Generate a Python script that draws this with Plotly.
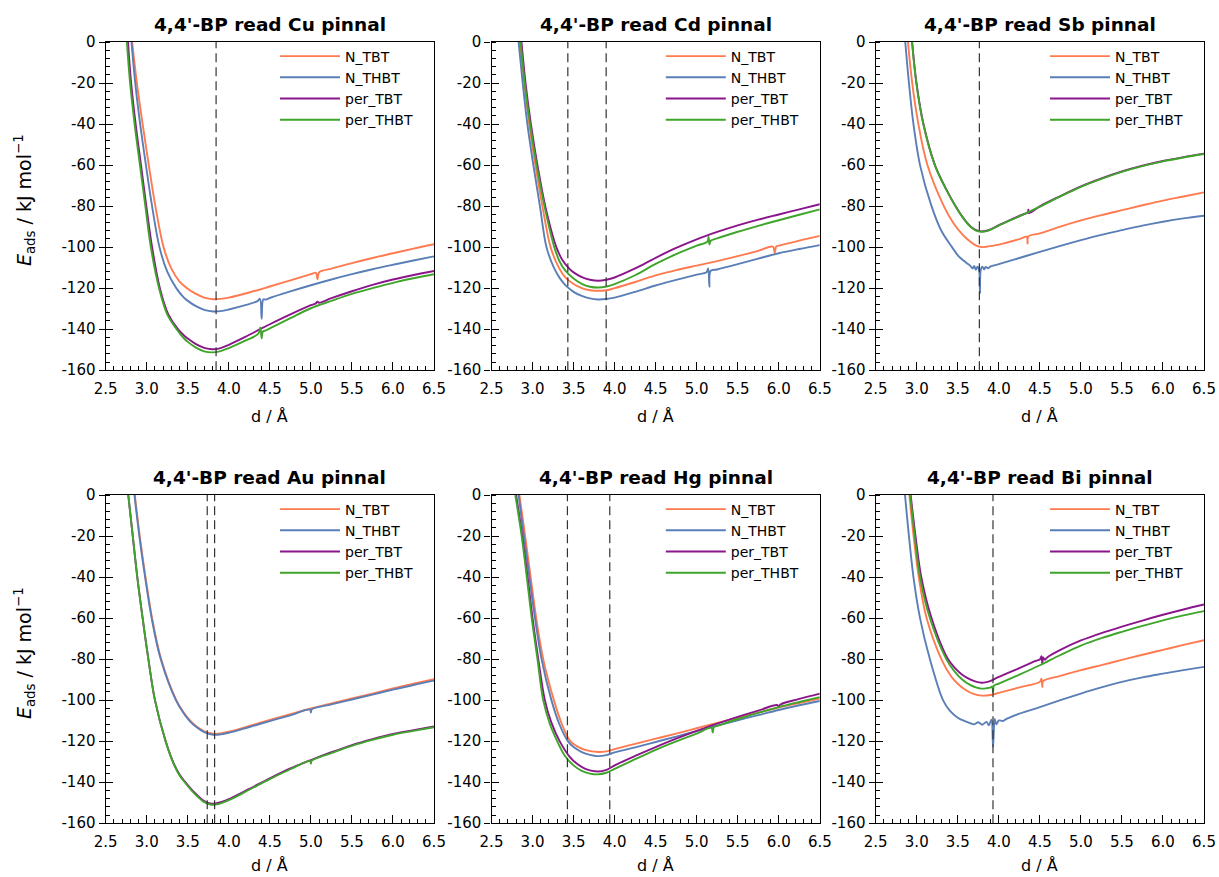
import plotly.graph_objects as go

W, H = 1219, 877
FONT = "DejaVu Sans"

PANEL_TITLES = ["4,4'-BP read Cu pinnal", "4,4'-BP read Cd pinnal", "4,4'-BP read Sb pinnal",
                "4,4'-BP read Au pinnal", "4,4'-BP read Hg pinnal", "4,4'-BP read Bi pinnal"]
SERIES = ["N_TBT", "N_THBT", "per_TBT", "per_THBT"]
COLORS = ["#FF7A4F", "#5A7EB6", "#8B168B", "#3EA52A"]

X_TICKS = [2.5, 3.0, 3.5, 4.0, 4.5, 5.0, 5.5, 6.0, 6.5]
X_TICK_TEXT = ["2.5", "3.0", "3.5", "4.0", "4.5", "5.0", "5.5", "6.0", "6.5"]
Y_TICKS = [0, -20, -40, -60, -80, -100, -120, -140, -160]
Y_TICK_TEXT = ["0", "-20", "-40", "-60", "-80", "-100", "-120", "-140", "-160"]

# ---------------- Cu ----------------
CU_N_TBT_D = [2.822, 2.88, 2.95, 3.025, 3.105, 3.205, 3.30, 3.40, 3.49, 3.60, 3.70, 3.81, 3.90, 4.00, 4.25, 4.50, 4.75, 5.00, 5.06, 5.08, 5.10, 5.25, 5.50, 5.75, 6.00, 6.25, 6.50]
CU_N_TBT_E = [0, -20, -40, -60, -80, -100, -110.5, -116.8, -120, -122.8, -124.6, -125.4, -125.2, -124.6, -122.1, -119.2, -116.2, -113.2, -112.5, -115.7, -112.3, -110.5, -107.8, -105.3, -103, -100.7, -98.6]
CU_N_THBT_D = [2.814, 2.86, 2.92, 2.99, 3.065, 3.155, 3.25, 3.36, 3.45, 3.50, 3.60, 3.70, 3.81, 3.90, 4.00, 4.20, 4.35, 4.38, 4.40, 4.42, 4.45, 4.50, 4.75, 5.00, 5.25, 5.50, 5.75, 6.00, 6.25, 6.50]
CU_N_THBT_E = [0, -20, -40, -60, -80, -100, -112, -120, -124.5, -126.2, -128.8, -130.6, -131.4, -131.2, -130.4, -128.3, -126.3, -125.2, -135, -125.5, -125.6, -124.8, -121.6, -118.6, -115.8, -113.2, -110.8, -108.6, -106.5, -104.5]
CU_PER_TBT_D = [2.772, 2.81, 2.865, 2.93, 2.995, 3.065, 3.16, 3.26, 3.38, 3.45, 3.50, 3.60, 3.70, 3.80, 3.90, 4.00, 4.20, 4.40, 4.50, 4.75, 5.00, 5.06, 5.08, 5.10, 5.25, 5.50, 5.75, 6.00, 6.25, 6.50]
CU_PER_TBT_E = [0, -20, -40, -60, -80, -100, -120, -132.5, -140, -142.9, -144.6, -147.3, -149.1, -149.8, -149.2, -147.6, -143.8, -139.6, -137.6, -132.8, -128.3, -127.4, -126.6, -127.1, -124.9, -121.5, -118.4, -115.8, -113.6, -111.6]
CU_PER_THBT_D = [2.758, 2.797, 2.852, 2.917, 2.983, 3.05, 3.15, 3.25, 3.364, 3.45, 3.50, 3.60, 3.70, 3.80, 3.90, 4.00, 4.20, 4.36, 4.385, 4.40, 4.415, 4.45, 4.50, 4.75, 5.00, 5.25, 5.50, 5.75, 6.00, 6.25, 6.50]
CU_PER_THBT_E = [0, -20, -40, -60, -80, -100, -120, -132.8, -140, -144.3, -146.2, -149, -150.8, -151.3, -150.7, -149.2, -145.6, -142.2, -139.2, -144.4, -141.2, -140.6, -139.6, -134.6, -129.8, -126.2, -122.8, -120, -117.4, -115.2, -113.2]
CU_DASH = [3.845]

# ---------------- Cd ----------------
CD_N_TBT_D = [2.845, 2.90, 2.96, 3.035, 3.12, 3.22, 3.32, 3.40, 3.50, 3.60, 3.70, 3.80, 3.90, 4.00, 4.25, 4.50, 4.75, 5.00, 5.25, 5.50, 5.75, 5.93, 5.95, 5.97, 6.00, 6.25, 6.50]
CD_N_TBT_E = [0, -20, -40, -60, -80, -100, -110, -114.8, -118, -120, -121, -121.3, -121, -120, -117, -113.8, -111.2, -109, -106.8, -104.4, -101.8, -99.8, -102.8, -99.6, -99.3, -96.8, -94.5]
CD_N_THBT_D = [2.83, 2.88, 2.937, 3.01, 3.09, 3.17, 3.26, 3.33, 3.40, 3.50, 3.60, 3.70, 3.80, 3.90, 4.00, 4.25, 4.50, 4.75, 5.00, 5.12, 5.14, 5.155, 5.17, 5.25, 5.50, 5.75, 6.00, 6.25, 6.50]
CD_N_THBT_E = [0, -20, -40, -60, -80, -100, -110, -115, -118.5, -121.8, -123.8, -125, -125.5, -125.3, -124.6, -121.8, -118.7, -116, -113.4, -112.2, -110.4, -119.3, -111.6, -110.9, -108.3, -105.6, -103, -100.9, -99]
CD_PER_TBT_D = [2.865, 2.915, 2.98, 3.06, 3.155, 3.29, 3.36, 3.45, 3.50, 3.60, 3.70, 3.80, 3.90, 4.00, 4.25, 4.50, 4.75, 5.00, 5.25, 5.50, 5.75, 6.00, 6.25, 6.50]
CD_PER_TBT_E = [0, -20, -40, -60, -80, -100, -106, -110.6, -112.3, -114.6, -115.9, -116.4, -115.9, -114.8, -110.4, -105.2, -100.4, -96.2, -92.6, -89.4, -86.6, -84.1, -81.6, -79.1]
CD_PER_THBT_D = [2.855, 2.905, 2.97, 3.05, 3.145, 3.265, 3.33, 3.40, 3.50, 3.60, 3.70, 3.80, 3.90, 4.00, 4.25, 4.50, 4.75, 5.00, 5.13, 5.145, 5.155, 5.17, 5.25, 5.50, 5.75, 6.00, 6.25, 6.50]
CD_PER_THBT_E = [0, -20, -40, -60, -80, -100, -107, -111.5, -115.3, -117.9, -119.3, -119.7, -119.2, -118, -113.7, -108.2, -103.4, -99.3, -97.3, -95, -98.7, -96.9, -95.7, -92.5, -89.6, -86.9, -84.2, -81.6]
CD_DASH = [3.43, 3.897]

# ---------------- Sb ----------------
SB_N_TBT_D = [2.893, 2.945, 3.02, 3.13, 3.33, 3.45, 3.55, 3.65, 3.72, 3.79, 3.85, 3.90, 4.00, 4.25, 4.34, 4.35, 4.36, 4.50, 4.75, 5.00, 5.25, 5.50, 5.75, 6.00, 6.25, 6.50]
SB_N_TBT_E = [0, -20, -40, -60, -80, -88.5, -93.5, -97.3, -99.2, -100, -99.8, -99.5, -98.8, -96.1, -95.0, -98.3, -94.8, -93.3, -90.0, -87.0, -84.4, -82.0, -79.6, -77.3, -75.3, -73.3]
SB_N_THBT_D = [2.86, 2.905, 2.96, 3.04, 3.18, 3.30, 3.43, 3.50, 3.60, 3.65, 3.68, 3.70, 3.72, 3.74, 3.76, 3.77, 3.78, 3.80, 3.82, 3.84, 3.87, 3.90, 4.00, 4.25, 4.50, 4.75, 5.00, 5.25, 5.50, 5.75, 6.00, 6.25, 6.50]
SB_N_THBT_E = [0, -20, -40, -60, -80, -92, -100, -104, -107.5, -109, -110.4, -109.2, -111, -109.5, -111.3, -122.5, -111, -109.5, -110.9, -109.7, -110.3, -109.4, -108.3, -105.3, -102.3, -99.4, -96.6, -94, -91.7, -89.5, -87.6, -86, -84.7]
SB_PER_TBT_D = [2.944, 2.997, 3.082, 3.222, 3.362, 3.472, 3.55, 3.62, 3.68, 3.74, 3.79, 3.85, 3.90, 4.00, 4.25, 4.355, 4.36, 4.365, 4.50, 4.75, 5.00, 5.25, 5.50, 5.75, 6.00, 6.25, 6.50]
SB_PER_TBT_E = [0, -20, -40, -60, -72, -80, -84.8, -88.4, -90.7, -92.0, -92.3, -92.0, -91.3, -89.3, -84.8, -82.9, -81.8, -83.4, -80.1, -75.1, -70.4, -66.5, -63.1, -60.3, -58.0, -56.1, -54.4]
SB_PER_THBT_D = [2.942, 2.995, 3.08, 3.22, 3.36, 3.47, 3.55, 3.62, 3.68, 3.74, 3.79, 3.85, 3.90, 4.00, 4.25, 4.50, 4.75, 5.00, 5.25, 5.50, 5.75, 6.00, 6.25, 6.50]
SB_PER_THBT_E = [0, -20, -40, -60, -72, -80, -85, -88.6, -90.9, -92.2, -92.5, -92.2, -91.5, -89.5, -85, -80.3, -75.3, -70.6, -66.7, -63.3, -60.5, -58.2, -56.3, -54.6]
SB_DASH = [3.763]

# ---------------- Au ----------------
AU_N_TBT_D = [2.855, 2.915, 2.985, 3.065, 3.175, 3.36, 3.45, 3.53, 3.60, 3.70, 3.81, 3.90, 4.00, 4.25, 4.50, 4.75, 5.00, 5.25, 5.50, 5.75, 6.00, 6.25, 6.50]
AU_N_TBT_E = [0, -20, -40, -60, -80, -100, -106, -110, -112.6, -115.2, -116.4, -116.2, -115.4, -112.6, -109.7, -106.9, -104.1, -101.6, -99.2, -96.8, -94.3, -92, -89.8]
AU_N_THBT_D = [2.85, 2.91, 2.98, 3.06, 3.17, 3.355, 3.45, 3.53, 3.60, 3.70, 3.81, 3.90, 4.00, 4.25, 4.50, 4.75, 4.99, 5.00, 5.01, 5.25, 5.50, 5.75, 6.00, 6.25, 6.50]
AU_N_THBT_E = [0, -20, -40, -60, -80, -100, -106.4, -110.5, -113, -115.6, -116.9, -116.7, -115.9, -113.1, -110.2, -107.4, -104.6, -106.0, -104.5, -102.1, -99.7, -97.3, -94.9, -92.6, -90.5]
AU_PER_TBT_D = [2.775, 2.83, 2.885, 2.95, 3.02, 3.10, 3.23, 3.33, 3.40, 3.47, 3.55, 3.60, 3.70, 3.79, 3.85, 3.90, 4.00, 4.25, 4.50, 4.75, 5.00, 5.25, 5.50, 5.75, 6.00, 6.25, 6.50]
AU_PER_TBT_E = [0, -20, -40, -60, -80, -100, -120, -131, -136.3, -140, -143.8, -145.8, -149.2, -150.5, -150.3, -149.8, -148.3, -143.3, -138.1, -133.3, -129.2, -125.4, -121.9, -119, -116.5, -114.6, -112.8]
AU_PER_THBT_D = [2.775, 2.83, 2.885, 2.95, 3.02, 3.10, 3.23, 3.33, 3.40, 3.47, 3.55, 3.60, 3.70, 3.79, 3.85, 3.90, 4.00, 4.25, 4.50, 4.75, 4.99, 5.00, 5.01, 5.25, 5.50, 5.75, 6.00, 6.25, 6.50]
AU_PER_THBT_E = [0, -20, -40, -60, -80, -100, -120, -131.3, -136.7, -140.4, -144.2, -146.3, -149.7, -151, -150.8, -150.3, -148.8, -143.7, -138.5, -133.7, -129.7, -130.9, -129.5, -125.8, -122.3, -119.4, -116.9, -115, -113.2]
AU_DASH = [3.737, 3.827]

# ---------------- Hg ----------------
HG_N_TBT_D = [2.84, 2.91, 2.977, 3.045, 3.13, 3.26, 3.36, 3.46, 3.55, 3.65, 3.80, 3.90, 4.00, 4.25, 4.50, 4.75, 5.00, 5.25, 5.50, 5.75, 6.00, 6.25, 6.50]
HG_N_TBT_E = [0, -20, -40, -60, -80, -100, -112, -120, -122.7, -124.4, -125.3, -125, -123.9, -121.3, -118.8, -116.3, -113.7, -111.1, -108.6, -106.1, -103.6, -101.4, -99.2]
HG_N_THBT_D = [2.83, 2.895, 2.962, 3.03, 3.11, 3.23, 3.33, 3.43, 3.50, 3.60, 3.70, 3.79, 3.90, 4.00, 4.25, 4.50, 4.75, 5.00, 5.25, 5.50, 5.75, 6.00, 6.25, 6.50]
HG_N_THBT_E = [0, -20, -40, -60, -80, -100, -112, -120, -122.9, -125.3, -126.7, -127.3, -126.8, -125.5, -123, -120.4, -117.8, -115.1, -112.4, -109.8, -107.3, -104.8, -102.5, -100.4]
HG_PER_TBT_D = [2.80, 2.875, 2.94, 3.0, 3.07, 3.15, 3.23, 3.33, 3.45, 3.55, 3.65, 3.79, 3.90, 4.00, 4.25, 4.50, 4.75, 5.00, 5.25, 5.50, 5.75, 5.98, 6.00, 6.02, 6.25, 6.50]
HG_PER_TBT_E = [0, -20, -40, -60, -80, -100, -111, -120, -127.5, -131.3, -133.6, -134.8, -134, -131.8, -127.2, -122.9, -118.8, -115, -111.5, -108.2, -105.1, -102.4, -103.1, -102.1, -99.4, -96.8]
HG_PER_THBT_D = [2.79, 2.868, 2.93, 2.99, 3.06, 3.13, 3.21, 3.30, 3.40, 3.50, 3.60, 3.70, 3.79, 3.90, 4.00, 4.25, 4.50, 4.75, 5.00, 5.18, 5.195, 5.21, 5.25, 5.50, 5.75, 6.00, 6.25, 6.50]
HG_PER_THBT_E = [0, -20, -40, -60, -80, -100, -111.5, -120, -127.5, -131.8, -134.5, -135.8, -136.2, -135.4, -133.5, -128.8, -124.2, -120.1, -116.3, -113.5, -115.8, -113.1, -112.6, -109.2, -106.2, -103.4, -100.9, -98.5]
HG_DASH = [3.425, 3.941]

# ---------------- Bi ----------------
BI_N_TBT_D = [2.91, 2.962, 3.025, 3.12, 3.30, 3.42, 3.50, 3.60, 3.70, 3.79, 3.90, 4.00, 4.25, 4.50, 4.52, 4.53, 4.54, 4.75, 5.00, 5.25, 5.50, 5.75, 6.00, 6.25, 6.50]
BI_N_TBT_E = [0, -20, -40, -60, -80, -88.5, -92, -95.2, -97.1, -97.8, -97.5, -96.5, -93.8, -91.1, -89.6, -93.6, -90.8, -88.2, -85.4, -82.9, -80.4, -77.9, -75.5, -73.1, -70.8]
BI_N_THBT_D = [2.857, 2.905, 2.96, 3.04, 3.16, 3.32, 3.40, 3.50, 3.60, 3.65, 3.70, 3.75, 3.80, 3.85, 3.88, 3.91, 3.93, 3.95, 3.97, 4.00, 4.05, 4.10, 4.25, 4.50, 4.75, 5.00, 5.25, 5.50, 5.75, 6.00, 6.25, 6.50]
BI_N_THBT_E = [0, -20, -40, -60, -80, -100, -105, -108.6, -110.5, -111.2, -111.8, -110.8, -112, -110.6, -112.3, -109.5, -122.8, -109.2, -111.8, -109.9, -110.2, -109, -106.6, -103.4, -100, -96.8, -93.8, -91.1, -88.9, -87.1, -85.4, -83.8]
BI_PER_TBT_D = [2.926, 2.985, 3.055, 3.18, 3.38, 3.47, 3.55, 3.65, 3.72, 3.79, 3.85, 3.90, 4.00, 4.25, 4.45, 4.50, 4.52, 4.53, 4.54, 4.56, 4.60, 4.75, 5.00, 5.25, 5.50, 5.75, 6.00, 6.25, 6.50]
BI_PER_TBT_E = [0, -20, -40, -60, -80, -84.5, -87.5, -89.9, -91, -91.5, -91.2, -90.6, -88.7, -84.4, -80.9, -80.2, -78.6, -82.4, -79.2, -80.3, -78.9, -75.5, -70.9, -67.3, -64.2, -61.2, -58.4, -55.8, -53.4]
BI_PER_THBT_D = [2.92, 2.975, 3.04, 3.16, 3.36, 3.45, 3.55, 3.65, 3.72, 3.79, 3.85, 3.90, 3.92, 3.93, 3.94, 4.00, 4.25, 4.50, 4.75, 5.00, 5.25, 5.50, 5.75, 6.00, 6.25, 6.50]
BI_PER_THBT_E = [0, -20, -40, -60, -80, -85.5, -89.8, -92.6, -93.8, -94.4, -94.2, -93.8, -93.4, -96.2, -93.0, -92.0, -87.6, -83.0, -78.0, -73.4, -69.8, -66.7, -63.8, -61.1, -58.7, -56.6]
BI_DASH = [3.929]

PANEL_DATA = [
    [(CU_N_TBT_D, CU_N_TBT_E), (CU_N_THBT_D, CU_N_THBT_E), (CU_PER_TBT_D, CU_PER_TBT_E), (CU_PER_THBT_D, CU_PER_THBT_E)],
    [(CD_N_TBT_D, CD_N_TBT_E), (CD_N_THBT_D, CD_N_THBT_E), (CD_PER_TBT_D, CD_PER_TBT_E), (CD_PER_THBT_D, CD_PER_THBT_E)],
    [(SB_N_TBT_D, SB_N_TBT_E), (SB_N_THBT_D, SB_N_THBT_E), (SB_PER_TBT_D, SB_PER_TBT_E), (SB_PER_THBT_D, SB_PER_THBT_E)],
    [(AU_N_TBT_D, AU_N_TBT_E), (AU_N_THBT_D, AU_N_THBT_E), (AU_PER_TBT_D, AU_PER_TBT_E), (AU_PER_THBT_D, AU_PER_THBT_E)],
    [(HG_N_TBT_D, HG_N_TBT_E), (HG_N_THBT_D, HG_N_THBT_E), (HG_PER_TBT_D, HG_PER_TBT_E), (HG_PER_THBT_D, HG_PER_THBT_E)],
    [(BI_N_TBT_D, BI_N_TBT_E), (BI_N_THBT_D, BI_N_THBT_E), (BI_PER_TBT_D, BI_PER_TBT_E), (BI_PER_THBT_D, BI_PER_THBT_E)],
]
PANEL_DASHES = [CU_DASH, CD_DASH, SB_DASH, AU_DASH, HG_DASH, BI_DASH]

# ---------------- layout geometry (pixels) ----------------
COL_LEFT = [105.7, 491.5, 875.7]
PANEL_W = 328.3
ROW_TOP = [42.0, 495.0]
PANEL_H = 328.2
XLABEL_Y = [416.0, 865.0]

fig = go.Figure()
layout = dict(width=W, height=H, margin=dict(l=0, r=0, t=0, b=0, autoexpand=False),
              paper_bgcolor="white", plot_bgcolor="white",
              font=dict(family=FONT, size=15, color="black"),
              showlegend=True)
annotations = []
shapes = []

for i in range(6):
    n = i + 1
    row, col = divmod(i, 3)
    xl = COL_LEFT[col]
    yt = ROW_TOP[row]
    xs = "x" if n == 1 else f"x{n}"
    ys = "y" if n == 1 else f"y{n}"
    yo = f"y{n + 6}"
    lg = "legend" if n == 1 else f"legend{n}"

    for k, (dd, ee) in enumerate(PANEL_DATA[i]):
        fig.add_trace(go.Scatter(
            x=dd, y=ee, mode="lines", name=SERIES[k],
            line=dict(color=COLORS[k], width=1.9, shape="spline", smoothing=1.0),
            xaxis=xs, yaxis=ys, legend=lg, showlegend=True, hoverinfo="skip"))
    # empty trace carrying the overlay axis used for the inner half of the y ticks
    fig.add_trace(go.Scatter(x=[None], y=[None], mode="lines", xaxis=xs, yaxis=yo,
                             showlegend=False, hoverinfo="skip"))

    xdom = [xl / W, (xl + PANEL_W) / W]
    ydom = [1 - (yt + PANEL_H) / H, 1 - yt / H]
    layout["xaxis" if n == 1 else f"xaxis{n}"] = dict(
        domain=xdom, anchor=ys, range=[2.5, 6.5], tickmode="array",
        tickvals=X_TICKS, ticktext=X_TICK_TEXT, ticks="inside", ticklen=8,
        tickwidth=1.2, tickcolor="black", showline=True, linecolor="black",
        linewidth=1.4, mirror=True, showgrid=False, zeroline=False,
        automargin=False, ticklabelstandoff=5,
        tickfont=dict(family=FONT, size=15, color="black"),
        minor=dict(tickmode="linear", tick0=2.5, dtick=0.1, ticks="inside",
                   ticklen=4, tickwidth=1, tickcolor="black", showgrid=False))
    layout["yaxis" if n == 1 else f"yaxis{n}"] = dict(
        domain=ydom, anchor=xs, range=[-160, 0], tickmode="array",
        tickvals=Y_TICKS, ticktext=Y_TICK_TEXT, ticks="outside", ticklen=6,
        tickwidth=1.2, tickcolor="black", showline=True, linecolor="black",
        linewidth=1.4, mirror=True, showgrid=False, zeroline=False,
        automargin=False,
        tickfont=dict(family=FONT, size=15, color="black"),
        minor=dict(tickmode="linear", tick0=0, dtick=4, ticks="inside",
                   ticklen=4, tickwidth=1, tickcolor="black", showgrid=False))
    layout[f"yaxis{n + 6}"] = dict(
        overlaying=ys, anchor=xs, side="left", range=[-160, 0], tickmode="array",
        tickvals=Y_TICKS, ticks="inside", ticklen=7, tickwidth=1.2,
        tickcolor="black", showticklabels=False, showline=False,
        showgrid=False, zeroline=False, automargin=False)

    layout[lg] = dict(x=(xl + PANEL_W - 87 - 72) / W, y=1 - (yt - 1.5) / H,
                      xanchor="left", yanchor="top", bgcolor="rgba(0,0,0,0)",
                      borderwidth=0, font=dict(family=FONT, size=14, color="black"),
                      tracegroupgap=0, itemwidth=60)

    cx = (xl + PANEL_W / 2) / W
    annotations.append(dict(text=f"<b>{PANEL_TITLES[i]}</b>", x=cx, y=1 - (yt - 18) / H,
                            xref="paper", yref="paper", showarrow=False,
                            xanchor="center", yanchor="middle",
                            font=dict(family=FONT, size=18.5, color="black")))
    annotations.append(dict(text="d / Å", x=cx, y=1 - XLABEL_Y[row] / H,
                            xref="paper", yref="paper", showarrow=False,
                            xanchor="center", yanchor="middle",
                            font=dict(family=FONT, size=16, color="black")))
    if col == 0:
        annotations.append(dict(text="<i>E</i><sub>ads</sub> / kJ mol<sup>−1</sup>",
                                x=24 / W, y=1 - (yt + PANEL_H / 2 - 6) / H,
                                xref="paper", yref="paper", showarrow=False,
                                textangle=-90, xanchor="center", yanchor="middle",
                                font=dict(family=FONT, size=19, color="black")))
    for dv in PANEL_DASHES[i]:
        shapes.append(dict(type="line", xref=xs, yref=f"{ys} domain", x0=dv, x1=dv,
                           y0=0, y1=1, layer="above",
                           line=dict(color="#333333", width=1.2, dash="9px,5px")))

layout["annotations"] = annotations
layout["shapes"] = shapes
fig.update_layout(**layout)
fig.write_html("out.html", config={"displayModeBar": False},
               post_script="document.body.style.margin='0px';")
